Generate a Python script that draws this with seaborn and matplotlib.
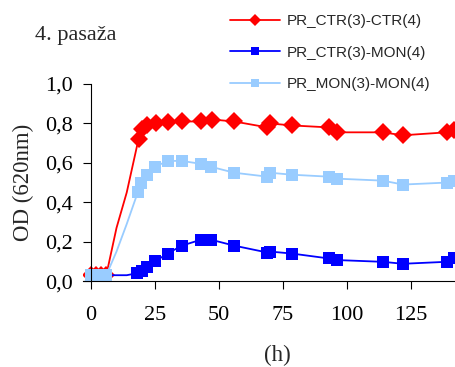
import matplotlib
matplotlib.use("Agg")
import matplotlib.pyplot as plt
import matplotlib.ticker as mticker
import seaborn as sns
import pandas as pd

# growth curves, OD at 620 nm over time (h)
time_ctr = [0, 2, 4, 6, 10, 14, 18.6, 20, 22, 25.5, 30, 35.5, 43, 47.5, 56, 69, 70, 78.5, 93, 96, 114, 122, 139, 142]
od_ctr_ctr = [0.03, 0.03, 0.03, 0.03, 0.27, 0.45, 0.72, 0.77, 0.79, 0.80, 0.805, 0.81, 0.81, 0.82, 0.81, 0.78, 0.80, 0.79, 0.78, 0.755, 0.755, 0.74, 0.755, 0.765]

time_mon = [0, 2, 4, 6, 14, 18, 20, 22, 25, 30, 35.5, 43, 47, 56, 69, 70, 78.5, 93, 96, 114, 122, 139, 142]
od_ctr_mon = [0.03, 0.03, 0.03, 0.03, 0.03, 0.04, 0.05, 0.07, 0.10, 0.14, 0.18, 0.21, 0.21, 0.18, 0.145, 0.15, 0.14, 0.115, 0.107, 0.098, 0.088, 0.098, 0.115]

time_mm = [0, 2, 4, 6, 10, 14, 18.3, 19.5, 22, 25, 30, 35.5, 43, 47, 56, 69, 70, 78.5, 93, 96, 114, 122, 139, 142]
od_mon_mon = [0.03, 0.03, 0.03, 0.03, 0.15, 0.29, 0.45, 0.50, 0.54, 0.58, 0.61, 0.61, 0.595, 0.58, 0.55, 0.53, 0.55, 0.54, 0.53, 0.52, 0.51, 0.49, 0.50, 0.51]

labels = ["PR_CTR(3)-CTR(4)", "PR_CTR(3)-MON(4)", "PR_MON(3)-MON(4)"]

sns.set_style("ticks")
plt.rcParams["font.family"] = ["Liberation Serif", "DejaVu Serif"]

fig = plt.figure(figsize=(4.56, 3.67), dpi=100)
ax = fig.add_axes([0.182, 0.234, 0.818, 0.537])

d1 = pd.DataFrame({"t": time_ctr, "od": od_ctr_ctr})
d2 = pd.DataFrame({"t": time_mon, "od": od_ctr_mon})
d3 = pd.DataFrame({"t": time_mm, "od": od_mon_mon})

# the steep rise points carry no marker
skip_ctr = [i for i, t in enumerate(time_ctr) if t not in (10, 14)]
skip_mon = [i for i, t in enumerate(time_mon) if t != 14]
skip_mm = [i for i, t in enumerate(time_mm) if t not in (10, 14)]

sns.lineplot(data=d1, x="t", y="od", ax=ax, color="#ff0000", marker="D", markersize=9,
             markeredgewidth=0, linewidth=1.3, markevery=skip_ctr, label=labels[0])
sns.lineplot(data=d2, x="t", y="od", ax=ax, color="#0000ff", marker="s", markersize=8,
             markeredgewidth=0, linewidth=1.3, markevery=skip_mon, label=labels[1])
sns.lineplot(data=d3, x="t", y="od", ax=ax, color="#99ccff", marker="s", markersize=9,
             markeredgewidth=0, linewidth=1.3, markevery=skip_mm, label=labels[2])

ax.set_xlim(-3.1, 142.7)
ax.set_ylim(0, 1.0)
ax.set_xticks([0, 25, 50, 75, 100, 125])
ax.set_yticks([0, 0.2, 0.4, 0.6, 0.8, 1.0])
ax.yaxis.set_major_formatter(mticker.FuncFormatter(lambda v, p: f"{v:.1f}".replace(".", ",")))
ax.spines["left"].set_position(("data", 0))
ax.spines["right"].set_visible(False)
ax.spines["top"].set_visible(False)
for s in ("left", "bottom"):
    ax.spines[s].set_linewidth(0.8)
    ax.spines[s].set_color("black")
ax.tick_params(axis="both", labelsize=16, direction="out", length=6, width=0.8, colors="black")
ax.tick_params(axis="x", pad=12)
ax.tick_params(axis="y", pad=7)
ax.set_xlabel("(h)", fontsize=16.5)
ax.xaxis.set_label_coords(0.521, -0.326)
ax.set_ylabel("OD (620nm)", fontsize=16.5)
ax.yaxis.set_label_coords(-0.132, 0.5)

ax.legend_.remove()
h, l = ax.get_legend_handles_labels()
leg = fig.legend(h, l, loc="upper left", bbox_to_anchor=(0.505, 0.962), frameon=False,
                 prop={"family": "Liberation Sans", "size": 11}, handlelength=3.27,
                 handletextpad=0.4, labelspacing=1.16, borderpad=0, borderaxespad=0)
for hd in leg.legend_handles:
    hd.set_markersize(6)

fig.text(0.077, 0.891, "4. pasaža", fontsize=16, va="baseline")

fig.savefig("out.png", dpi=100)
